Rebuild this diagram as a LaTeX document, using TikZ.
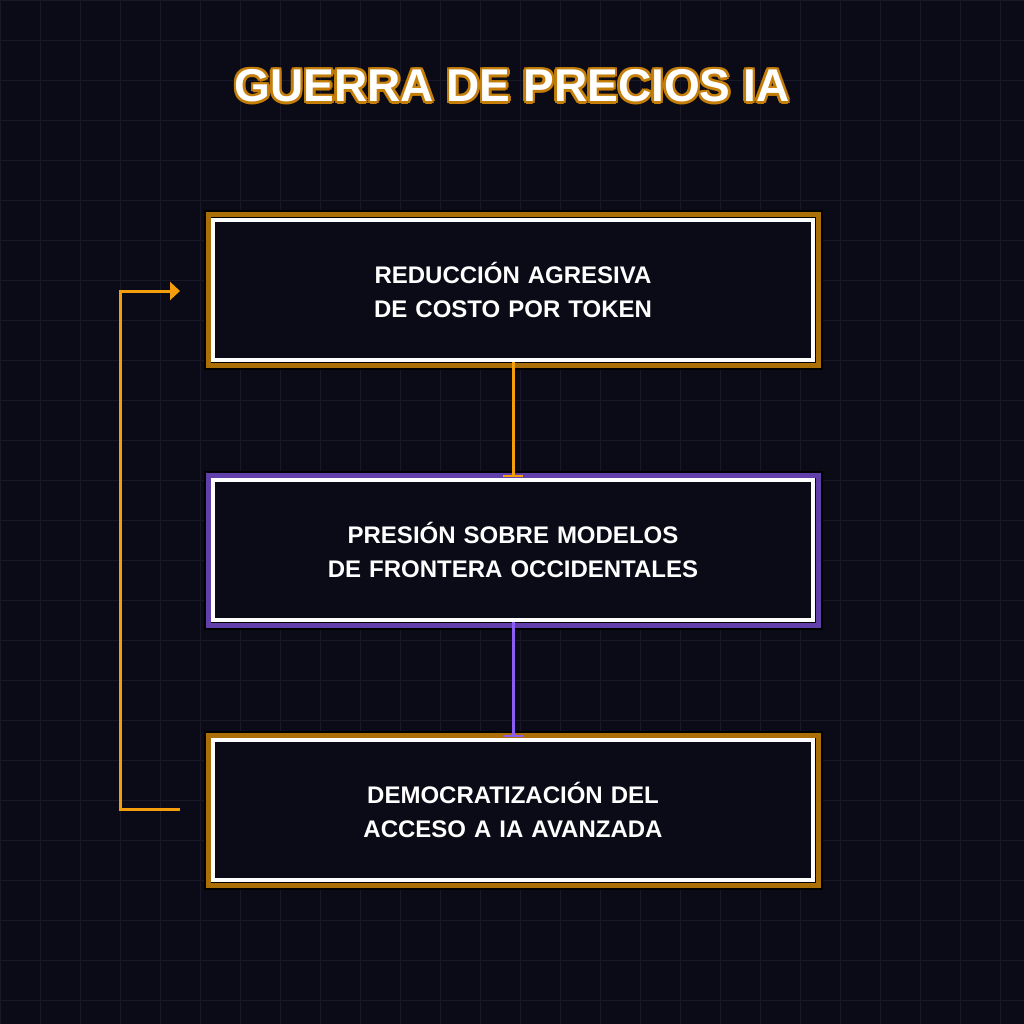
\documentclass[tikz,border=0pt]{standalone}
\usepackage{fontspec}
\setmainfont{Liberation Sans}
\usetikzlibrary{arrows.meta,positioning}
\definecolor{bg}{HTML}{0B0B18}
\definecolor{gridc}{HTML}{181828}
\definecolor{amber}{HTML}{F59E0B}
\definecolor{violet}{HTML}{8B5CF6}

\begin{document}
\begin{tikzpicture}[x=1pt,y=-1pt,
  step box/.style={draw=white,line width=4pt,fill=bg,minimum width=600pt,minimum height=140pt,
    text width=550pt,align=center,text=white,font=\bfseries\fontsize{24}{34}\selectfont},
  glow/.style={double=#1!70!black,draw=black,double distance=5pt,line width=2pt,fill=none,minimum width=610pt,minimum height=150pt}]
\useasboundingbox (0,0) rectangle (1024,1024);
\fill[bg] (0,0) rectangle (1024,1024);
\foreach \k in {0,40,...,1000} {
  \draw[gridc,line width=0.8pt] (\k,0) -- (\k,1024);
  \draw[gridc,line width=0.8pt] (0,\k) -- (1024,\k);
}

% title with glow
\foreach \dx/\dy in {-2.5/0,2.5/0,0/-2.5,0/2.5,-2/-2,2/2,-2/2,2/-2}
  \node[text=amber!80!black,font=\bfseries\fontsize{46}{52}\selectfont] at (512+\dx,86+\dy) {GUERRA DE PRECIOS IA};
\node[text=white,font=\bfseries\fontsize{46}{52}\selectfont] (title) at (512,86) {GUERRA DE PRECIOS IA};

% boxes
\node[glow=amber] (g1) at (513,290) {};
\node[step box] (cost) at (513,290) {REDUCCIÓN AGRESIVA DE COSTO POR TOKEN};
\node[glow=violet] (g2) at (513,550) {};
\node[step box] (press) at (513,550) {PRESIÓN SOBRE MODELOS DE FRONTERA OCCIDENTALES};
\node[glow=amber] (g3) at (513,810) {};
\node[step box] (access) at (513,810) {DEMOCRATIZACIÓN DEL ACCESO A IA AVANZADA};

% connectors
\draw[amber,line width=3pt,-{Bar[width=20pt,line width=2pt]}] (cost.south) -- ([yshift=-3pt]g2.north);
\draw[violet,line width=3pt,-{Bar[width=20pt,line width=2pt]}] (press.south) -- ([yshift=-3pt]g3.north);
\coordinate (loopout) at (180,809);
\coordinate (loopin) at (180,291);
\draw[amber,line width=3pt,-{Triangle[length=10pt,width=18pt]}] (loopout) -- (120,809) -- (120,291) -- (loopin);
\end{tikzpicture}
\end{document}
